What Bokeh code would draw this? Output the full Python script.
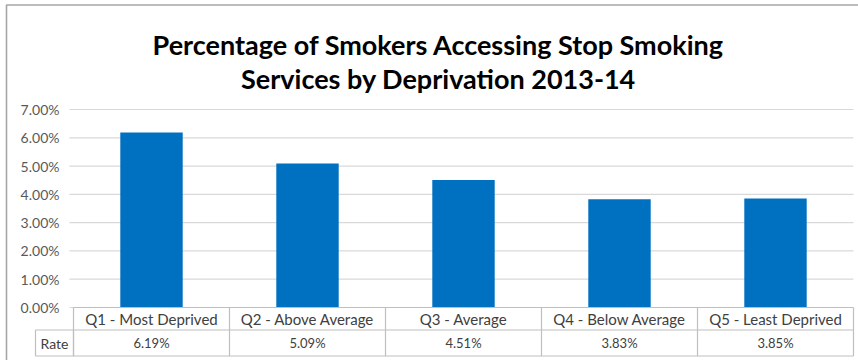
import numpy as np
from bokeh.plotting import figure
from bokeh.models import Range1d, ColumnDataSource
from bokeh.core.properties import value
from bokeh.embed import file_html
from bokeh.resources import INLINE

# ---- data ----
categories = ["Q1 - Most Deprived", "Q2 - Above Average", "Q3 - Average",
              "Q4 - Below Average", "Q5 - Least Deprived"]
rates = [0.0619, 0.0509, 0.0451, 0.0383, 0.0385]
rate_labels = ["6.19%", "5.09%", "4.51%", "3.83%", "3.85%"]
y_ticks = [0.00, 0.01, 0.02, 0.03, 0.04, 0.05, 0.06, 0.07]
y_tick_labels = ["0.00%", "1.00%", "2.00%", "3.00%", "4.00%", "5.00%", "6.00%", "7.00%"]
title_lines = ["Percentage of Smokers Accessing Stop Smoking",
               "Services by Deprivation 2013-14"]
row_name = "Rate"

# ---- layout (pixels) ----
W, H = 858, 360
PL, PR = 73, 853          # plot area left/right
PY0, PY7 = 307, 109       # pixel rows of 0% and 7%
N = len(categories)
YMAX = y_ticks[-1]


def xd(px):
    return (px - PL) * N / (PR - PL)


def yd(px):
    return (PY0 - px) * YMAX / (PY0 - PY7)


p = figure(width=W, height=H, output_backend="svg", toolbar_location=None,
           x_range=Range1d(xd(0), xd(W)), y_range=Range1d(yd(H), yd(0)),
           x_axis_location=None, y_axis_location=None,
           min_border=0, min_border_left=0, min_border_right=0,
           min_border_top=0, min_border_bottom=0)
p.outline_line_color = None
p.xgrid.visible = False
p.ygrid.visible = False
p.background_fill_color = "white"
p.border_fill_color = "white"

FONT = value("Lato")
x_centers = np.arange(N) + 0.5

# chart border (left & top visible)
p.quad(left=[xd(6)], right=[xd(W + 40)], top=[yd(4.5)], bottom=[yd(H + 40)],
       fill_color=None, line_color="#a6a6a6", line_width=1.6)

# gridlines
p.segment(x0=[xd(69)] * len(y_ticks), x1=[xd(PR)] * len(y_ticks),
          y0=y_ticks, y1=y_ticks, line_color="#d9d9d9", line_width=1.2)

# y tick labels
p.text(x=[xd(59)] * len(y_ticks), y=y_ticks, text=y_tick_labels,
       text_font=FONT, text_font_size="14px", text_color="#595959",
       text_align="right", text_baseline="middle")

# bars
src = ColumnDataSource(dict(x=x_centers, top=rates, cat=categories, lab=rate_labels))
p.vbar(x="x", top="top", bottom=0, width=0.4, source=src,
       fill_color="#0070C0", line_color=None)

# data table
tbl = "#bfbfbf"
row_mid = yd(329.5)
row_bot = yd(355.5)
p.segment(x0=[0, 0, 0], x1=[N, N, N], y0=[0, row_mid, row_bot],
          y1=[0, row_mid, row_bot], line_color=tbl, line_width=1.2)
bounds = np.arange(N + 1)
p.segment(x0=bounds, x1=bounds, y0=[0] * (N + 1), y1=[row_bot] * (N + 1),
          line_color=tbl, line_width=1.2)
p.quad(left=[xd(35)], right=[0], top=[row_mid], bottom=[row_bot],
       fill_color=None, line_color=tbl, line_width=1.2)

p.text(x="x", y=yd(318.5), text="cat", source=src, text_font=FONT,
       text_font_size="15px", text_color="#404040",
       text_align="center", text_baseline="middle")
p.text(x="x", y=yd(342.5), text="lab", source=src, text_font=FONT,
       text_font_size="13px", text_color="#404040",
       text_align="center", text_baseline="middle")
p.text(x=[xd(54)], y=[yd(342.5)], text=[row_name], text_font=FONT,
       text_font_size="14px", text_color="#404040",
       text_align="center", text_baseline="middle")

# title
p.text(x=[xd(438)] * 2, y=[yd(44), yd(78)], text=title_lines,
       text_font=FONT, text_font_style="bold", text_font_size="27px",
       text_color="#000000", text_align="center", text_baseline="alphabetic")

open("out.html", "w").write(file_html(p, INLINE))
